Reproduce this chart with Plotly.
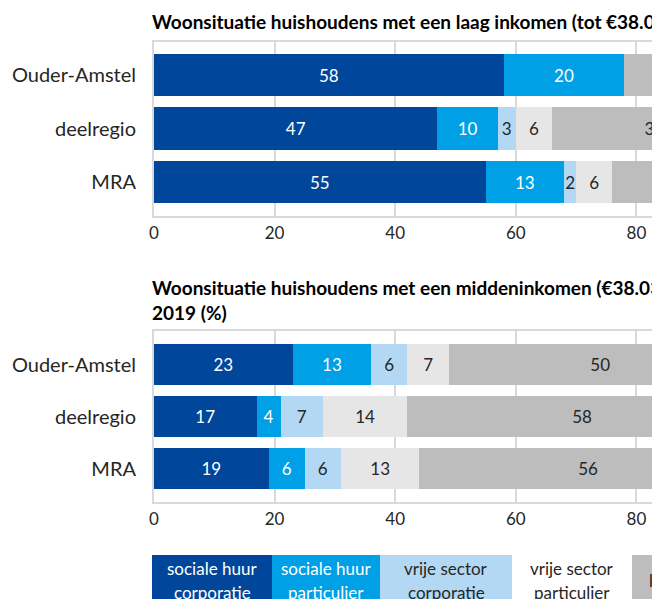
import plotly.graph_objects as go

# regions (categories) and housing types (series)
regions = ["Ouder-Amstel", "deelregio", "MRA"]
series = ["sociale huur corporatie", "sociale huur particulier",
          "vrije sector corporatie", "vrije sector particulier", "koop"]

# laag inkomen (%)
laag_soc_corp = [58, 47, 55]
laag_soc_part = [20, 10, 13]
laag_vrij_corp = [0, 3, 2]
laag_vrij_part = [0, 6, 6]
laag_koop = [22, 34, 24]

# middeninkomen (%)
mid_soc_corp = [23, 17, 19]
mid_soc_part = [13, 4, 6]
mid_vrij_corp = [6, 7, 6]
mid_vrij_part = [7, 14, 13]
mid_koop = [50, 58, 56]

x_ticks = [0, 20, 40, 60, 80]

title_laag = "Woonsituatie huishoudens met een laag inkomen (tot €38.035), 2019 (%)"
title_mid = "Woonsituatie huishoudens met een middeninkomen (€38.035-€61.707),<br>2019 (%)"

laag = [laag_soc_corp, laag_soc_part, laag_vrij_corp, laag_vrij_part, laag_koop]
mid = [mid_soc_corp, mid_soc_part, mid_vrij_corp, mid_vrij_part, mid_koop]

FONT = "Lato"
colors = ["#00479b", "#00a0e6", "#b3d8f4", "#e6e6e6", "#bdbdbd"]
text_colors = ["white", "white", "#262626", "#262626", "#262626"]
legend_bg = ["#00479b", "#00a0e6", "#b3d8f4", "white", "#bdbdbd"]

# the page body has an 8px margin, so the figure is laid out 8px up/left
W, H = 652, 591
L = 146
PW = W - L
PX_PER_UNIT = 6.03


def py(y):
    # pixel row (figure coords) -> paper fraction
    return 1 - y / H


def px(x):
    return (x - L) / PW


fig = go.Figure()

for i, name in enumerate(series):
    for vals, xa, ya in [(laag[i], "x", "y"), (mid[i], "x2", "y2")]:
        fig.add_trace(go.Bar(
            y=regions, x=vals, orientation="h", name=name,
            marker=dict(color=colors[i], line=dict(width=0)),
            text=[str(v) if v else "" for v in vals],
            textposition="inside", insidetextanchor="middle", textangle=0,
            insidetextfont=dict(family=FONT, size=17, color=text_colors[i]),
            xaxis=xa, yaxis=ya, showlegend=False,
        ))

xaxis_style = dict(
    range=[0, PW / PX_PER_UNIT], tickvals=x_ticks, showgrid=True,
    gridcolor="#d9d9d9", gridwidth=2, showline=True, linecolor="#d9d9d9",
    linewidth=2, mirror=True, zeroline=False, ticks="",
    tickfont=dict(family=FONT, size=17, color="#262626"),
    ticklabelstandoff=1, fixedrange=True,
)
yaxis_style = dict(
    categoryorder="array", categoryarray=regions, showgrid=False,
    showline=True, linecolor="#d9d9d9", linewidth=2, mirror=False,
    ticks="", ticklabelstandoff=12, zeroline=False,
    tickfont=dict(family=FONT, size=20, color="#262626"), fixedrange=True,
)

fig.update_layout(
    width=W, height=H, barmode="stack", bargap=0.21,
    margin=dict(l=L, r=0, t=0, b=0),
    paper_bgcolor="white", plot_bgcolor="white",
    font=dict(family=FONT, color="#262626"),
    uniformtext=dict(mode="show", minsize=17),
    xaxis=dict(xaxis_style, anchor="y"),
    yaxis=dict(yaxis_style, anchor="x", domain=[py(208), py(34)],
               range=[2.635, -0.617]),
    xaxis2=dict(xaxis_style, anchor="y2"),
    yaxis2=dict(yaxis_style, anchor="x2", domain=[py(494), py(323)],
                range=[2.64, -0.65]),
)

# chart titles
fig.add_annotation(text="<b>" + title_laag + "</b>", xref="paper", yref="paper",
                   x=px(142), y=py(13), xanchor="left", yanchor="middle",
                   showarrow=False, align="left",
                   font=dict(family=FONT, size=19, color="black"))
fig.add_annotation(text="<b>" + title_mid.replace("<br>", "</b><br><b>") + "</b>",
                   xref="paper", yref="paper",
                   x=px(142), y=py(292), xanchor="left", yanchor="middle",
                   showarrow=False, align="left",
                   font=dict(family=FONT, size=19, color="black"))

# legend as coloured boxes with the series names
boxes = [(144, 120), (264, 108), (372, 132), (504, 120), (624, 70)]
for i, name in enumerate(series):
    left, w = boxes[i]
    fig.add_shape(type="rect", xref="paper", yref="paper",
                  x0=px(left), x1=px(left + w), y0=py(547), y1=py(610),
                  fillcolor=legend_bg[i], line=dict(width=0))
    parts = name.rsplit(" ", 1)
    rows = [(parts[0], 560), (parts[1], 584)] if len(parts) > 1 else [(name, 572)]
    for line, yc in rows:
        fig.add_annotation(text=line, xref="paper", yref="paper",
                           x=px(left + w / 2), y=py(yc),
                           xanchor="center", yanchor="middle", showarrow=False,
                           font=dict(family=FONT, size=17, color=text_colors[i]))

fig.write_html("out.html")
